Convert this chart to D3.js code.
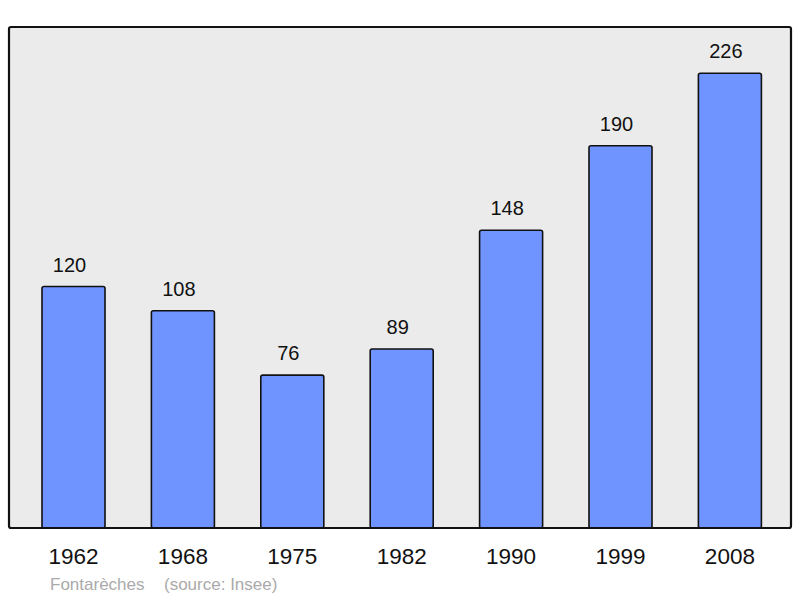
<!DOCTYPE html>
<html><head><meta charset="utf-8">
<script src="https://cdn.jsdelivr.net/npm/d3@7"></script>
<style>body{margin:0;background:#fff}svg{display:block}</style>
</head><body>
<script>
const years = ["1962","1968","1975","1982","1990","1999","2008"];
const population = [120,108,76,89,148,190,226];
const title = "Fontarèches";
const source = "(source: Insee)";

const W = 800, H = 598;
const plot = {x0: 9, y0: 27, x1: 791, y1: 528};
const svg = d3.select("body").append("svg").attr("width", W).attr("height", H);
const font = "'Liberation Sans', Arial, sans-serif";

svg.append("rect").attr("x", plot.x0).attr("y", plot.y0)
  .attr("width", plot.x1 - plot.x0).attr("height", plot.y1 - plot.y0)
  .attr("rx", 2).attr("fill", "#ebebeb");

const x = d3.scaleBand().domain(years).range([9, 794.4]).paddingInner(0.424).paddingOuter(0.3016);
const y = d3.scaleLinear().domain([0, 249]).range([plot.y1, plot.y0]);

svg.selectAll("rect.bar").data(years).join("rect").attr("class","bar")
  .attr("x", d => x(d)).attr("width", x.bandwidth())
  .attr("y", (d,i) => y(population[i])).attr("height", (d,i) => plot.y1 - y(population[i]))
  .attr("rx", 2).attr("fill", "#7094ff").attr("stroke", "#111").attr("stroke-width", 1.6);

svg.selectAll("text.val").data(years).join("text").attr("class","val")
  .attr("x", d => x(d) + x.bandwidth()/2 - 4).attr("y", (d,i) => y(population[i]) - 15)
  .attr("text-anchor","middle").attr("font-family", font).attr("font-size", 20).attr("fill","#111")
  .text((d,i) => population[i]);

svg.append("rect").attr("x", plot.x0).attr("y", plot.y0)
  .attr("width", plot.x1 - plot.x0).attr("height", plot.y1 - plot.y0)
  .attr("rx", 2).attr("fill", "none").attr("stroke", "#111").attr("stroke-width", 2.2);

const xAxis = svg.append("g").attr("transform", `translate(0,${plot.y1})`)
  .call(d3.axisBottom(x).tickSize(0).tickPadding(20));
xAxis.select(".domain").remove();
xAxis.selectAll("text").attr("font-family", font).attr("font-size", 22.5).attr("fill","#111");

svg.append("text").attr("x", 50).attr("y", 590).attr("font-family", font).attr("font-size", 17)
  .attr("fill", "#aaa").text(title);
svg.append("text").attr("x", 164).attr("y", 590).attr("font-family", font).attr("font-size", 17)
  .attr("fill", "#aaa").text(source);
</script>
</body></html>
